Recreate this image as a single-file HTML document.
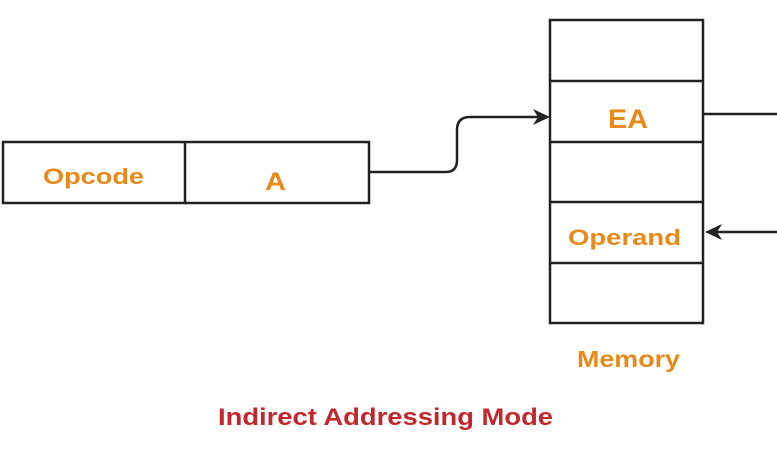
<!DOCTYPE html>
<html><head><style>
body{margin:0;background:#fff;}
svg text{font-family:"Liberation Sans",sans-serif;font-weight:bold;}
</style></head><body>
<svg width="777" height="446" viewBox="0 0 777 446" xmlns="http://www.w3.org/2000/svg">
<rect width="777" height="446" fill="#fff"/>
<g fill="none" stroke="#222" stroke-width="2.5">
<rect x="3" y="142" width="366" height="61"/>
<line x1="185" y1="142" x2="185" y2="203"/>
<rect x="550" y="20" width="153" height="303"/>
<line x1="550" y1="81" x2="703" y2="81"/>
<line x1="550" y1="142" x2="703" y2="142"/>
<line x1="550" y1="202" x2="703" y2="202"/>
<line x1="550" y1="263" x2="703" y2="263"/>
<path d="M369 172 H446 Q457 172 457 160 V130 Q457 117 470 117 H540"/>
<line x1="703" y1="114" x2="777" y2="114"/>
<line x1="716" y1="232" x2="777" y2="232"/>
</g>
<path d="M550 117 L533 109 L538 117 L533 125 Z" fill="#222"/>
<path d="M705 232 L722 224 L717 232 L722 240 Z" fill="#222"/>
<g fill="#E8891A">
<text x="43" y="184" font-size="22" textLength="101" lengthAdjust="spacingAndGlyphs">Opcode</text>
<text x="265" y="190" font-size="25" textLength="21" lengthAdjust="spacingAndGlyphs">A</text>
<text x="608" y="128" font-size="27" textLength="40" lengthAdjust="spacingAndGlyphs">EA</text>
<text x="568" y="245" font-size="22" textLength="113" lengthAdjust="spacingAndGlyphs">Operand</text>
<text x="577" y="367" font-size="23" textLength="103" lengthAdjust="spacingAndGlyphs">Memory</text>
</g>
<text x="218" y="425" font-size="24" fill="#C0282E" textLength="335" lengthAdjust="spacingAndGlyphs">Indirect Addressing Mode</text>
</svg>
</body></html>
